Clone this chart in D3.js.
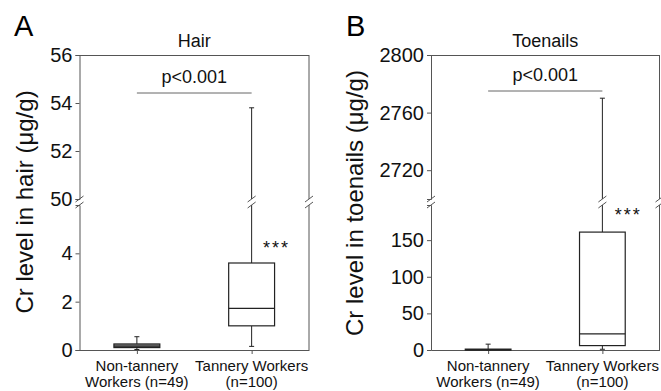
<!DOCTYPE html>
<html>
<head>
<meta charset="utf-8">
<script src="https://cdn.jsdelivr.net/npm/d3@7"></script>
<style>
  body { margin: 0; background: #fff; }
  svg { display: block; font-family: "Liberation Sans", Arial, sans-serif; }
</style>
</head>
<body>
<div id="chart"></div>
<script>
// groups and box statistics: [low whisker, q1, median, q3, high whisker]
const groups = ["Non-tannery|Workers (n=49)", "Tannery Workers|(n=100)"];
const hairStats = [[0.02, 0.1, 0.16, 0.25, 0.55], [0.15, 1.0, 1.72, 3.6, 53.8]];
const toenailStats = [[0, 0.3, 0.6, 1.2, 8], [1, 6, 22, 161, 2770]];
const hairTicksLow = [0, 2, 4];
const hairTicksHigh = [50, 52, 54, 56];
const toenailTicksLow = [0, 50, 100, 150];
const toenailTicksHigh = [2720, 2760, 2800];

const width = 661, height = 391;
const svg = d3.select("#chart").append("svg")
  .attr("width", width)
  .attr("height", height);

const axisColor = "#555";
const boxColor = "#222";

function drawPanel(opt) {
  const g = svg.append("g");
  const left = opt.left, right = opt.right;
  const top = 55, bottom = 350, breakHi = 199, breakLo = 205;

  let x = d3.scalePoint().domain(groups).range([left, right]).padding(0.5);
  let yHigh = d3.scaleLinear().domain(opt.highDomain).range([breakHi, top]);
  let yLow = d3.scaleLinear().domain(opt.lowDomain).range([bottom, breakLo]);
  let y = v => v >= opt.highDomain[0] ? yHigh(v) : yLow(v);
  let boxW = x.step() * 0.4;

  // left axis, two segments
  [[yHigh, opt.ticksHigh], [yLow, opt.ticksLow]].forEach(([s, t]) => {
    let ax = g.append("g")
      .attr("transform", `translate(${left},0)`)
      .call(d3.axisLeft(s).tickValues(t).tickFormat(d3.format("d"))
        .tickSizeOuter(0).tickSize(4).tickPadding(3));
    ax.selectAll("path, line").attr("stroke", axisColor);
    ax.selectAll("text").attr("font-size", 20).attr("fill", "#111");
  });

  // bottom axis
  let bx = g.append("g")
    .attr("transform", `translate(0,${bottom})`)
    .call(d3.axisBottom(x).tickSize(4).tickSizeOuter(0).tickFormat(""));
  bx.selectAll("path, line").attr("stroke", axisColor);

  groups.forEach(name => {
    let lines = name.split("|");
    let t = g.append("text")
      .attr("text-anchor", "middle")
      .attr("font-size", 15)
      .attr("fill", "#111");
    lines.forEach((l, i) => {
      t.append("tspan").attr("x", x(name)).attr("y", 371 + i * 16).text(l);
    });
  });

  // frame top and right
  g.append("line").attr("x1", left).attr("x2", right).attr("y1", top + 0.5).attr("y2", top + 0.5)
    .attr("stroke", axisColor);
  g.append("line").attr("x1", right).attr("x2", right).attr("y1", top).attr("y2", breakHi)
    .attr("stroke", axisColor);
  g.append("line").attr("x1", right).attr("x2", right).attr("y1", breakLo).attr("y2", bottom)
    .attr("stroke", axisColor);

  // boxes
  opt.stats.forEach((s, i) => {
    let cx = x(groups[i]);
    let bg = g.append("g");
    if (s[4] >= opt.highDomain[0]) {
      bg.append("line").attr("x1", cx).attr("x2", cx).attr("y1", y(s[3])).attr("y2", breakLo)
        .attr("stroke", boxColor);
      bg.append("line").attr("x1", cx).attr("x2", cx).attr("y1", breakHi).attr("y2", y(s[4]))
        .attr("stroke", boxColor);
    } else {
      bg.append("line").attr("x1", cx).attr("x2", cx).attr("y1", y(s[3])).attr("y2", y(s[4]))
        .attr("stroke", boxColor);
    }
    bg.append("line").attr("x1", cx).attr("x2", cx).attr("y1", y(s[1])).attr("y2", y(s[0]))
      .attr("stroke", boxColor);
    [s[0], s[4]].forEach(v => {
      bg.append("line").attr("x1", cx - 2.5).attr("x2", cx + 2.5).attr("y1", y(v)).attr("y2", y(v))
        .attr("stroke", boxColor);
    });
    bg.append("rect")
      .attr("x", cx - boxW / 2)
      .attr("y", y(s[3]))
      .attr("width", boxW)
      .attr("height", Math.max(1, y(s[1]) - y(s[3])))
      .attr("fill", opt.fills[i])
      .attr("stroke", boxColor)
      .attr("stroke-width", 1.2);
    bg.append("line").attr("x1", cx - boxW / 2).attr("x2", cx + boxW / 2)
      .attr("y1", y(s[2])).attr("y2", y(s[2]))
      .attr("stroke", boxColor).attr("stroke-width", 1.2);
  });

  // break marks
  let breakXs = [left, right];
  opt.stats.forEach((s, i) => { if (s[4] >= opt.highDomain[0]) breakXs.push(x(groups[i])); });
  breakXs.forEach(bxp => {
    [breakHi, breakLo].forEach(by => {
      g.append("line")
        .attr("x1", bxp - 4).attr("y1", by + 3)
        .attr("x2", bxp + 4).attr("y2", by - 3)
        .attr("stroke", axisColor);
    });
  });

  // p value bracket
  let mid = (x(groups[0]) + x(groups[1])) / 2;
  g.append("line").attr("x1", x(groups[0])).attr("x2", x(groups[1]))
    .attr("y1", opt.pLineY).attr("y2", opt.pLineY)
    .attr("stroke", "#666");
  g.append("text").attr("x", mid).attr("y", opt.pLineY - 10)
    .attr("text-anchor", "middle").attr("font-size", 18).attr("fill", "#111")
    .text("p<0.001");

  // title
  g.append("text").attr("x", mid).attr("y", 47)
    .attr("text-anchor", "middle").attr("font-size", 18).attr("fill", "#111")
    .text(opt.title);

  // stars
  g.append("text").attr("x", x(groups[1]) + opt.starDx).attr("y", opt.starY)
    .attr("text-anchor", "middle").attr("font-size", 18).attr("letter-spacing", 2)
    .attr("fill", "#111").text("***");

  // panel letter
  g.append("text").attr("x", opt.letterX).attr("y", 36)
    .attr("font-size", 29).attr("fill", "#000").text(opt.letter);

  // y label
  g.append("text")
    .attr("transform", `translate(${opt.labelX},${opt.labelY}) rotate(-90)`)
    .attr("text-anchor", "middle").attr("font-size", 24).attr("fill", "#111")
    .text(opt.yLabel);
}

drawPanel({
  left: 79.5, right: 309, stats: hairStats,
  highDomain: [50, 56], lowDomain: [0, 6],
  ticksHigh: hairTicksHigh, ticksLow: hairTicksLow,
  fills: ["#8c8c8c", "#fff"], pLineY: 93, title: "Hair",
  starDx: 25, starY: 254, letter: "A", letterX: 14,
  yLabel: "Cr level in hair (\u03bcg/g)", labelX: 33, labelY: 202
});

drawPanel({
  left: 431, right: 659.5, stats: toenailStats,
  highDomain: [2700, 2800], lowDomain: [0, 198],
  ticksHigh: toenailTicksHigh, ticksLow: toenailTicksLow,
  fills: ["#8c8c8c", "#fff"], pLineY: 91, title: "Toenails",
  starDx: 26, starY: 221, letter: "B", letterX: 346,
  yLabel: "Cr level in toenails (\u03bcg/g)", labelX: 363, labelY: 203
});
</script>
</body>
</html>
